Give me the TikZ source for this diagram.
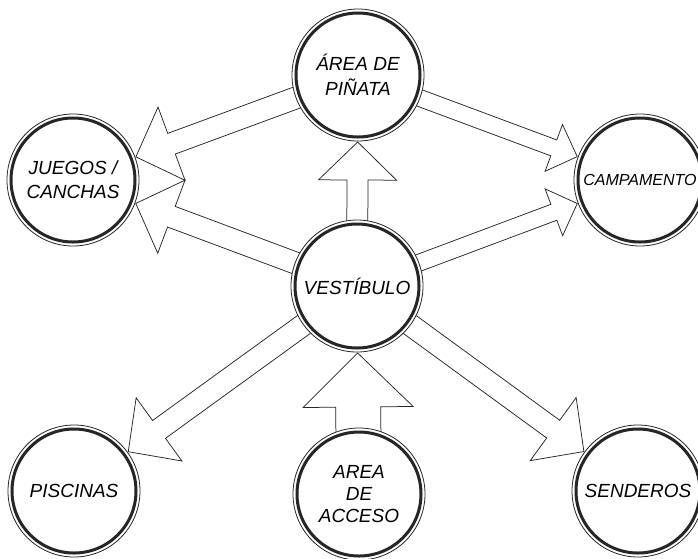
\documentclass[tikz,border=0pt]{standalone}
\usepackage{fontspec}
\setmainfont{Liberation Sans}
\usetikzlibrary{calc}
\pgfdeclarelayer{background}
\pgfsetlayers{background,main}
\tikzset{
  place/.style={circle, draw=black!85, line width=0.8pt, fill=white, minimum size=132pt,
    inner sep=0pt, align=center, text=black,
    font=\fontsize{19}{24}\selectfont\itshape,
    path picture={\draw[line width=3pt] (path picture bounding box.center) circle[radius=62pt];}},
  flow/.style={draw=black!85, line width=0.75pt, fill=white, line join=miter}
}
% #1 source, #2 target, #3 shaft half-width, #4 head half-width, #5 head length
\newcommand{\flowarrow}[5]{%
  \coordinate (fT) at ($(#2)!67pt!(#1)$);
  \coordinate (fB) at ($(#2)!67pt+#5!(#1)$);
  \coordinate (fS) at ($(#1)!30pt!(#2)$);
  \draw[flow] ($(fS)!#3!90:(#2)$) -- ($(fB)!#3!90:(#2)$) -- ($(fB)!#4!90:(#2)$) -- (fT)
    -- ($(fB)!#4!-90:(#2)$) -- ($(fB)!#3!-90:(#2)$) -- ($(fS)!#3!-90:(#2)$) -- cycle;
}
\begin{document}
\begin{tikzpicture}[x=1pt,y=-1pt]
\useasboundingbox (0,0) rectangle (698,558);
\node[place, font=\fontsize{19}{25}\selectfont\itshape] (pin) at (358,75) {ÁREA DE\\PIÑATA};
\node[place] (jue) at (73,180) {JUEGOS /\\CANCHAS};
\node[place, font=\fontsize{16}{20}\selectfont\itshape] (cam) at (640,180) {CAMPAMENTO};
\node[place] (ves) at (357,286) {VESTÍBULO};
\node[place] (pis) at (74,491) {PISCINAS};
\node[place, font=\fontsize{19}{22}\selectfont\itshape] (acc) at (359,494) {AREA\\DE\\ACCESO};
\node[place] (sen) at (638,491) {SENDEROS};
\begin{pgfonlayer}{background}
\fill[white] (0,0) rectangle (698,558);
\flowarrow{pin}{jue}{11pt}{39pt}{38pt}
\flowarrow{ves}{jue}{11pt}{39pt}{38pt}
\flowarrow{pin}{cam}{8.5pt}{25pt}{25pt}
\flowarrow{ves}{cam}{8.5pt}{25pt}{25pt}
\flowarrow{ves}{pin}{10.5pt}{39pt}{38pt}
\flowarrow{ves}{pis}{11pt}{39pt}{38pt}
\flowarrow{ves}{sen}{11pt}{39pt}{38pt}
\flowarrow{acc}{ves}{22.5pt}{55pt}{54pt}
\end{pgfonlayer}
\end{tikzpicture}
\end{document}
